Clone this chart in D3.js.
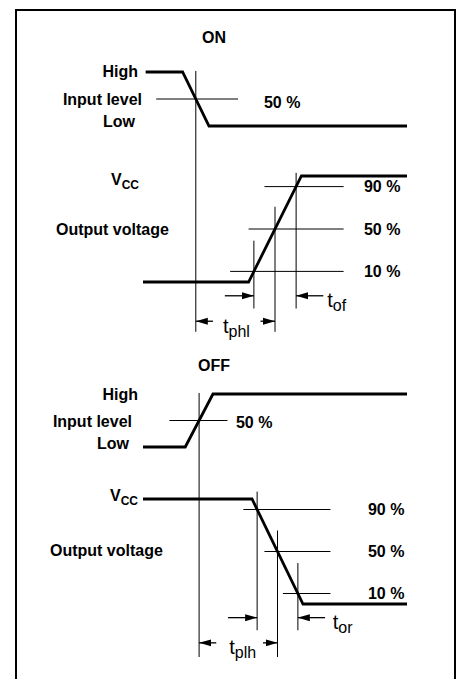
<!DOCTYPE html>
<html>
<head>
<meta charset="utf-8">
<script src="https://cdn.jsdelivr.net/npm/d3@7/dist/d3.min.js"></script>
<style>
  html, body { margin: 0; padding: 0; background: #fff; }
  svg { display: block; font-family: "Liberation Sans", Arial, Helvetica, sans-serif; }
  .lbl { font-size: 16px; font-weight: bold; }
  .tm { font-size: 20px; }
</style>
</head>
<body>
<svg id="canvas" width="461" height="679"></svg>
<script>

// waveforms: [time, level], level 0 = low, 1 = high
var onInput   = [[1, 1], [15, 1], [25, 0], [100, 0]];
var onOutput  = [[0, 0], [40, 0], [60, 1], [100, 1]];
var offInput  = [[0, 0], [16, 0], [26.5, 1], [100, 1]];
var offOutput = [[0, 1], [41.3, 1], [60.6, 0], [100, 0]];

var thresholds = [0.1, 0.5, 0.9];
var thresholdLabels = ["10 %", "50 %", "90 %"];
var inputLevelNames = ["High", "Input level", "Low"];

// where each output threshold line starts / ends (time units)
var onRefStart  = [33, 40, 46];
var offRefStart = [53, 46, 38];
var onRefEnd = 76, offRefEnd = 71;
var onInRef  = [5, 36];
var offInRef = [10, 32];

// top of the vertical marker at each output threshold (output level units)
var onMarkTop  = [0.39, 0.71, 1.03];
var offMarkTop = [0.39, 0.70, 1.07];

var onTimes  = ["phl", "of"];
var offTimes = ["plh", "or"];

var svg = d3.select("#canvas");

var x = d3.scaleLinear().domain([0, 100]).range([143, 407]);

var panels = [
  { title: "ON", titleY: 43,
    inY: d3.scaleLinear().domain([0, 1]).range([126, 72]),
    outY: d3.scaleLinear().domain([0, 1]).range([282, 176]),
    input: onInput, output: onOutput,
    inRef: onInRef, refStart: onRefStart, refEnd: onRefEnd, markTop: onMarkTop,
    times: onTimes, pctX: 83.7, inPctX: 45.8, inPctDy: 9,
    nameX: [138, 142, 135], nameDy: [5, 6, 1],
    vccX: 111, vccDy: 9, outLblX: 56, outLblDy: 6, mainBottom: -0.47,
    delayLblX: 10.3, transLblX: 11.8 },
  { title: "OFF", titleY: 371,
    inY: d3.scaleLinear().domain([0, 1]).range([447, 394]),
    outY: d3.scaleLinear().domain([0, 1]).range([604, 499]),
    input: offInput, output: offOutput,
    inRef: offInRef, refStart: offRefStart, refEnd: offRefEnd, markTop: offMarkTop,
    times: offTimes, pctX: 85.2, inPctX: 35.2, inPctDy: 7,
    nameX: [138, 132, 129], nameDy: [6, 6, 2],
    vccX: 110, vccDy: 2, outLblX: 50, outLblDy: 4, mainBottom: -0.505,
    delayLblX: 11.4, transLblX: 13.2 }
];

// frame (bottom edge runs off the page)
svg.append("rect")
  .attr("x", 16).attr("y", 10)
  .attr("width", 439).attr("height", 720)
  .attr("fill", "none").attr("stroke", "#000").attr("stroke-width", 2);

svg.append("defs").append("marker")
  .attr("id", "head")
  .attr("viewBox", "0 -4 12 8")
  .attr("refX", 12).attr("refY", 0)
  .attr("markerUnits", "userSpaceOnUse")
  .attr("markerWidth", 12).attr("markerHeight", 8)
  .attr("orient", "auto")
  .append("path")
  .attr("d", "M0,-3.5L12,0L0,3.5Z")
  .attr("fill", "#000");

// time where the edge (points 1 -> 2) crosses a level
function crossing(wave, lvl) {
  var a = wave[1], b = wave[2];
  return a[0] + (lvl - a[1]) / (b[1] - a[1]) * (b[0] - a[0]);
}

function thin(g, x1, y1, x2, y2) {
  return g.append("line")
    .attr("x1", x1).attr("y1", y1).attr("x2", x2).attr("y2", y2)
    .attr("stroke", "#000").attr("stroke-width", 1);
}

function arrow(g, from, to, y) {
  g.append("line")
    .attr("x1", x(from)).attr("y1", y).attr("x2", x(to)).attr("y2", y)
    .attr("stroke", "#000").attr("stroke-width", 1.3)
    .attr("marker-end", "url(#head)");
}

function tLabel(g, xx, yy, sub) {
  var t = g.append("text").attr("class", "tm").attr("x", xx).attr("y", yy).text("t");
  t.append("tspan").attr("font-size", 16).attr("dy", 4).text(sub);
}

panels.forEach(function(p) {
  var g = svg.append("g");

  g.append("text").attr("class", "lbl")
    .attr("x", 214).attr("y", p.titleY)
    .attr("text-anchor", "middle").text(p.title);

  // input level names
  var inLv = [1, 0.5, 0];
  inputLevelNames.forEach(function(n, i) {
    g.append("text").attr("class", "lbl")
      .attr("x", p.nameX[i]).attr("y", p.inY(inLv[i]) + p.nameDy[i])
      .attr("text-anchor", "end").text(n);
  });

  var vcc = g.append("text").attr("class", "lbl")
    .attr("x", p.vccX).attr("y", p.outY(1) + p.vccDy).text("V");
  vcc.append("tspan").attr("font-size", 12).attr("dy", 4).text("CC");

  g.append("text").attr("class", "lbl")
    .attr("x", p.outLblX).attr("y", p.outY(0.5) + p.outLblDy)
    .text("Output voltage");

  // input 50 % reference
  var tIn = crossing(p.input, 0.5);
  thin(g, x(p.inRef[0]), p.inY(0.5), x(p.inRef[1]), p.inY(0.5));
  g.append("text").attr("class", "lbl")
    .attr("x", x(p.inPctX)).attr("y", p.inY(0.5) + p.inPctDy).text("50 %");

  // main vertical at the input crossing
  thin(g, x(tIn), p.inY(1.02), x(tIn), p.outY(p.mainBottom));

  // output thresholds
  var cross = thresholds.map(function(l) { return crossing(p.output, l); });
  thresholds.forEach(function(l, i) {
    thin(g, x(p.refStart[i]), p.outY(l), x(p.refEnd), p.outY(l));
    var bottom = l === 0.5 ? p.mainBottom : -0.25;
    thin(g, x(cross[i]), p.outY(p.markTop[i]), x(cross[i]), p.outY(bottom));
    g.append("text").attr("class", "lbl")
      .attr("x", x(p.pctX)).attr("y", p.outY(l) + 5.5)
      .text(thresholdLabels[i]);
  });

  // waveforms
  var line = function(sy) {
    return d3.line().x(function(d) { return x(d[0]); }).y(function(d) { return sy(d[1]); });
  };
  g.append("path").datum(p.input)
    .attr("d", line(p.inY))
    .attr("fill", "none").attr("stroke", "#000").attr("stroke-width", 2.8);
  g.append("path").datum(p.output)
    .attr("d", line(p.outY))
    .attr("fill", "none").attr("stroke", "#000").attr("stroke-width", 2.8);

  // transition time arrows
  var first = d3.min(cross), last = d3.max(cross);
  var yT = p.outY(-0.13);
  arrow(g, first - 11, first, yT);
  arrow(g, last + 10.3, last, yT);
  tLabel(g, x(last + p.transLblX), p.outY(-0.24), p.times[1]);

  // propagation delay arrows
  var yD = p.outY(-0.37);
  arrow(g, tIn + 6.5, tIn, yD);
  arrow(g, cross[1] - 5.5, cross[1], yD);
  tLabel(g, x(tIn + p.delayLblX), p.outY(-0.48), p.times[0]);
});

</script>
</body>
</html>
